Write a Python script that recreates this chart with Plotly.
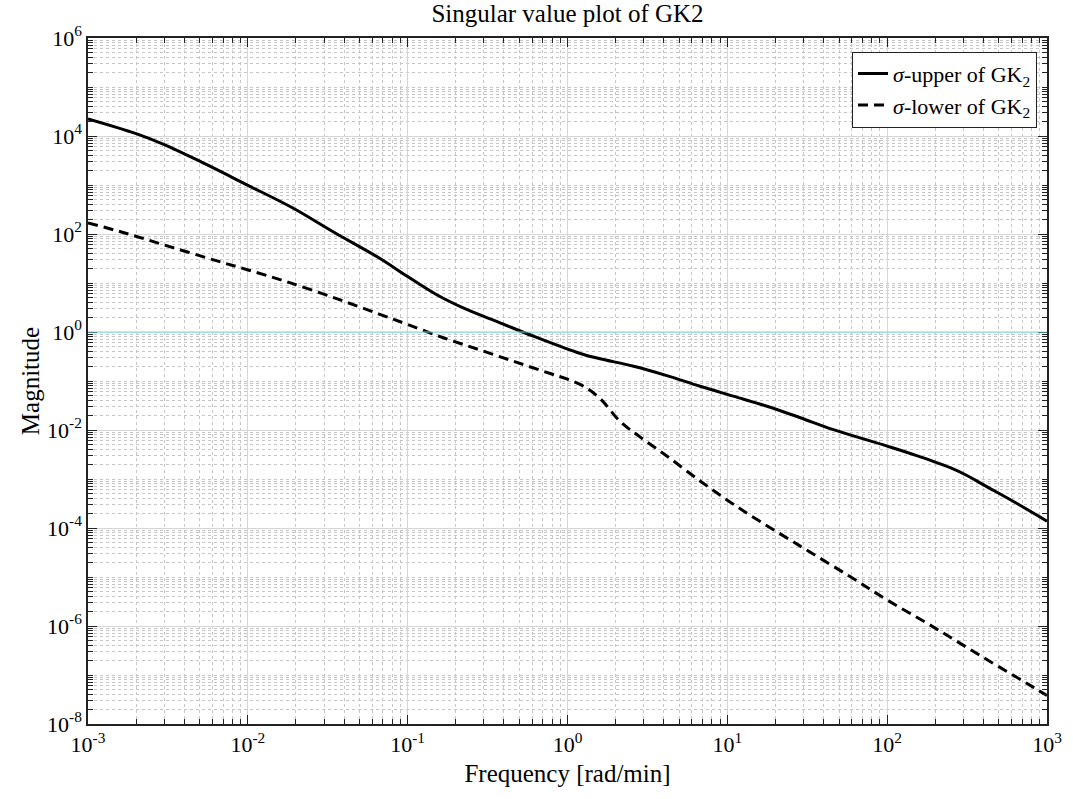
import plotly.graph_objects as go

# ---- data ----
freq_upper = [0.001, 0.002, 0.003, 0.005, 0.0098, 0.019, 0.035, 0.066, 0.1, 0.15,
              0.234, 0.378, 0.612, 0.99, 1.26, 1.6, 2.59, 4.18, 6.76, 10.9,
              17.7, 28.6, 46.1, 100, 153, 248, 320, 401, 649, 1000]
sigma_upper = [22400, 11200, 6700, 3060, 1020, 343, 106, 32.7, 13.5, 5.9,
               2.88, 1.54, 0.82, 0.454, 0.348, 0.284, 0.20, 0.129, 0.078, 0.049,
               0.0306, 0.0178, 0.0102, 0.0047, 0.0030, 0.0017, 0.00115, 0.00076, 0.000316, 0.000138]

freq_lower = [0.001, 0.0017, 0.0032, 0.0065, 0.0098, 0.0171, 0.0352, 0.0656, 0.0986, 0.167,
              0.284, 0.482, 0.78, 0.99, 1.26, 1.6, 2.14, 2.84, 4.18, 6.76,
              10, 13.9, 28.6, 58.6, 100, 195, 398, 824, 1000]
sigma_lower = [169, 105, 56, 27.9, 18.9, 10.9, 4.9, 2.35, 1.45, 0.764,
               0.429, 0.24, 0.142, 0.11, 0.0783, 0.0437, 0.0148, 0.00724, 0.00295, 0.00091,
               0.00037, 1.82e-4, 4.27e-5, 1.02e-5, 3.4e-6, 9.5e-7, 2.3e-7, 5.6e-8, 3.8e-8]

x_ticks = [1e-3, 1e-2, 1e-1, 1e0, 1e1, 1e2, 1e3]
x_ticktext = ["10<sup>-3</sup>", "10<sup>-2</sup>", "10<sup>-1</sup>", "10<sup>0</sup>",
              "10<sup>1</sup>", "10<sup>2</sup>", "10<sup>3</sup>"]
y_ticks = [1e-8, 1e-6, 1e-4, 1e-2, 1e0, 1e2, 1e4, 1e6]
y_ticktext = ["10<sup>-8</sup>", "10<sup>-6</sup>", "10<sup>-4</sup>", "10<sup>-2</sup>",
              "10<sup>0</sup>", "10<sup>2</sup>", "10<sup>4</sup>", "10<sup>6</sup>"]

unity_level = 1.0
x_range_log = [-3, 3]
y_range_log = [-8, 6]

FONT = "Liberation Serif"

# minor grid positions (1..9 x each decade) - axis styling only
x_minor = [m * 10.0 ** e for e in range(-3, 3) for m in range(1, 10)] + [1e3]
y_minor = [m * 10.0 ** e for e in range(-8, 6) for m in range(1, 10)] + [1e6]

fig = go.Figure()
fig.add_trace(go.Scatter(
    x=freq_upper, y=sigma_upper, mode="lines", line_shape="spline",
    name="<i>σ</i>-upper of GK<sub>2</sub>",
    line=dict(color="black", width=3, smoothing=1.0)))
fig.add_trace(go.Scatter(
    x=freq_lower, y=sigma_lower, mode="lines", line_shape="spline",
    name="<i>σ</i>-lower of GK<sub>2</sub>",
    line=dict(color="black", width=3, dash="10px,6px", smoothing=1.0)))

fig.add_hline(y=unity_level, line=dict(color="#6fe3ea", width=1), layer="above")

axis_common = dict(
    type="log",
    showline=True, linecolor="#222222", linewidth=1.5, mirror="allticks",
    ticks="inside", ticklen=9, tickwidth=1, tickcolor="#222222",
    tickmode="array",
    showgrid=True, gridcolor="#d6d6d6", gridwidth=1,
    tickfont=dict(family=FONT, size=22, color="black"),
    zeroline=False,
)

fig.update_xaxes(**axis_common, range=x_range_log, tickvals=x_ticks, ticktext=x_ticktext,
                 minor=dict(tickmode="array", tickvals=x_minor, ticks="inside", ticklen=5,
                            tickcolor="#222222", showgrid=True, gridcolor="#c6c6c6",
                            griddash="dot", gridwidth=1),
                 title=dict(text="Frequency [rad/min]", font=dict(family=FONT, size=25, color="black"),
                            standoff=8))
fig.update_yaxes(**axis_common, range=y_range_log, tickvals=y_ticks, ticktext=y_ticktext,
                 minor=dict(tickmode="array", tickvals=y_minor, ticks="inside", ticklen=5,
                            tickcolor="#222222", showgrid=True, gridcolor="#c6c6c6",
                            griddash="dot", gridwidth=1),
                 title=dict(text="Magnitude", font=dict(family=FONT, size=25, color="black"),
                            standoff=0))

fig.update_layout(
    width=1073, height=799,
    margin=dict(l=88, r=26, t=38, b=75),
    paper_bgcolor="white", plot_bgcolor="white",
    title=dict(text="Singular value plot of GK2", x=0.5, xanchor="center",
               xref="paper", yref="container", y=0.983, yanchor="middle",
               font=dict(family=FONT, size=25, color="black")),
    legend=dict(x=0.9896, y=0.98, xanchor="right", yanchor="top",
                bgcolor="white", bordercolor="#222222", borderwidth=1,
                font=dict(family=FONT, size=22, color="black"),
                tracegroupgap=0),
    showlegend=True,
)

fig.write_html("out.html")
